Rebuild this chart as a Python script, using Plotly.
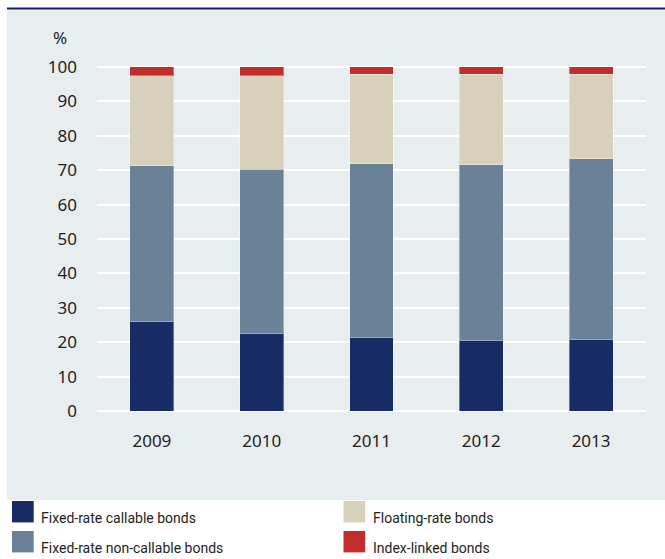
import plotly.graph_objects as go

# Share of outstanding bonds by type, per cent
years = ["2009", "2010", "2011", "2012", "2013"]
fixed_callable = [26.1, 22.6, 21.5, 20.6, 20.9]
fixed_noncallable = [45.2, 47.7, 50.4, 50.9, 52.4]
floating_rate = [26.1, 27.1, 25.9, 26.3, 24.5]
index_linked = [2.6, 2.6, 2.2, 2.2, 2.2]

series_names = [
    "Fixed-rate callable bonds",
    "Fixed-rate non-callable bonds",
    "Floating-rate bonds",
    "Index-linked bonds",
]
series_values = [fixed_callable, fixed_noncallable, floating_rate, index_linked]
series_colors = ["#172b65", "#6b8197", "#d7d1bc", "#c12d2a"]

W, H = 665, 559
ML, MR, MT, MB = 97, 19, 60, 141
PW, PH = W - ML - MR, H - MT - MB
FONT = "Noto Sans"
LEGEND_FONT = "Roboto"
TEXT = "#1e1e1e"


def px(x):
    return (x - ML) / PW


def py(y):
    return (H - MB - y) / PH


fig = go.Figure()
for name, vals, col in zip(series_names, series_values, series_colors):
    fig.add_trace(go.Bar(
        x=years, y=vals, name=name, width=0.4,
        marker=dict(color=col, line=dict(color="rgba(255,255,255,0.35)", width=1)),
        showlegend=False,
    ))

shapes = [
    # grey panel behind the chart
    dict(type="rect", xref="paper", yref="paper", layer="below",
         x0=px(7), x1=px(665), y0=py(500), y1=py(10.5),
         fillcolor="#e8edf0", line_width=0),
    # rule along the top
    dict(type="rect", xref="paper", yref="paper",
         x0=px(7), x1=px(665), y0=py(9.6), y1=py(7.6),
         fillcolor="#141a78", line_width=0),
]

annotations = [
    dict(text="%", xref="paper", yref="paper", x=px(60), y=py(37),
         xanchor="center", yanchor="middle", showarrow=False,
         font=dict(family=FONT, size=17, color=TEXT)),
]

# legend laid out in two columns under the panel
legend_pos = [(12, 501, 0), (12, 531, 1), (343.5, 501, 2), (343.5, 531, 3)]
for x0, y0, i in legend_pos:
    shapes.append(dict(type="rect", xref="paper", yref="paper",
                       x0=px(x0), x1=px(x0 + 21.7), y0=py(y0 + 21.4), y1=py(y0),
                       fillcolor=series_colors[i], line_width=0))
    annotations.append(dict(text=series_names[i], xref="paper", yref="paper",
                            x=px(x0 + 27), y=py(y0 + 17), xanchor="left",
                            yanchor="middle", showarrow=False,
                            font=dict(family=LEGEND_FONT, size=14, color=TEXT)))

fig.update_layout(
    width=W, height=H,
    margin=dict(l=ML, r=MR, t=MT, b=MB, pad=0),
    barmode="stack",
    paper_bgcolor="white",
    plot_bgcolor="#e8edf0",
    font=dict(family=FONT, size=17, color=TEXT),
    shapes=shapes,
    annotations=annotations,
    xaxis=dict(
        range=[-0.5, 4.5], showgrid=False, zeroline=False, showline=False,
        ticks="", ticklabelstandoff=11, tickfont=dict(size=17, color=TEXT),
    ),
    yaxis=dict(
        range=[-2, 102], tickvals=list(range(0, 101, 10)),
        showgrid=True, gridcolor="white", gridwidth=2,
        zeroline=False, showline=False, ticks="",
        ticklabelstandoff=19, tickfont=dict(size=17, color=TEXT),
    ),
)

fig.write_html("out.html")
